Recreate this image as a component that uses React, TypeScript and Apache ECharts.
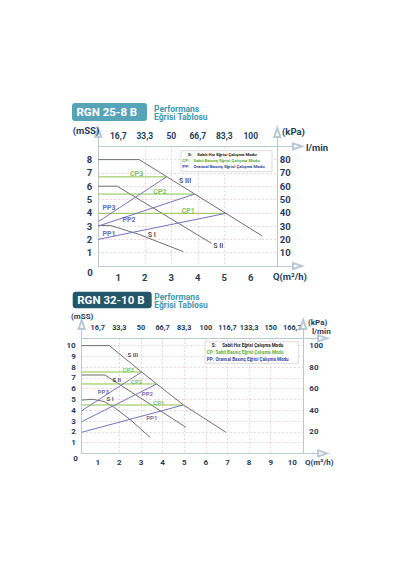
import React, { useEffect, useRef } from 'react';
import * as echarts from 'echarts';

// ---------- RGN 25-8 B ----------
const Q_TICKS_25 = [1, 2, 3, 4, 5, 6];
const LMIN_25 = ['16,7', '33,3', '50', '66,7', '83,3', '100'];
const S3_25 = [[0.24, 8], [1.79, 8], [6.43, 2.26]];
const S2_25 = [[0.24, 6], [0.96, 6], [4.52, 1.7]];
const S1_25 = [[0.24, 3.05], [0.7, 3.05], [1.75, 2.4], [3.45, 1.08]];
const CP3_25 = [[0.24, 6.7], [2.82, 6.7]];
const CP2_25 = [[0.24, 5.41], [3.88, 5.41]];
const CP1_25 = [[0.24, 3.96], [5.06, 3.96]];
const PP3_25 = [[0.24, 3.33], [2.82, 6.7]];
const PP2_25 = [[0.24, 3.0], [3.88, 5.41]];
const PP1_25 = [[0.24, 2.0], [5.06, 3.96]];
const S_LABELS_25 = [[3.52, 6.41, 'S III'], [4.77, 1.5, 'S II'], [2.26, 2.33, 'S I']];
const CP_LABELS_25 = [[1.69, 6.89, 'CP3'], [2.57, 5.59, 'CP2'], [3.64, 4.14, 'CP1']];
const PP_LABELS_25 = [[0.65, 4.34, 'PP3'], [1.4, 3.46, 'PP2'], [0.65, 2.38, 'PP1']];

// ---------- RGN 32-10 B ----------
const Q_TICKS_32 = [1, 2, 3, 4, 5, 6, 7, 8, 9, 10];
const LMIN_32 = ['16,7', '33,3', '50', '66,7', '83,3', '100', '116,7', '133,3', '150', '166,7'];
const S3_32 = [[0.26, 10], [1.54, 10], [3.03, 7.55], [4.96, 4.5], [6.93, 1.96]];
const S2_32 = [[0.26, 7.27], [1.34, 7.27], [5.08, 2.42]];
const S1_32 = [[0.26, 4.95], [0.8, 5.02], [1.3, 4.8], [1.72, 4.33], [2.49, 3.16], [3.42, 1.49]];
const CP3_32 = [[0.26, 7.55], [3.03, 7.55]];
const CP2_32 = [[0.26, 6.44], [3.73, 6.44]];
const CP1_32 = [[0.26, 4.49], [4.96, 4.49]];
const PP3_32 = [[0.26, 3.96], [3.03, 7.55]];
const PP2_32 = [[0.26, 2.94], [3.73, 6.44]];
const PP1_32 = [[0.26, 1.96], [4.96, 4.49]];
const S_LABELS_32 = [[2.62, 9.13, 'S III'], [1.88, 6.81, 'S II'], [1.57, 5.05, 'S I']];
const CP_LABELS_32 = [[2.42, 7.74, 'CP3'], [2.8, 6.65, 'CP2'], [3.83, 4.7, 'CP1']];
const PP_LABELS_32 = [[1.26, 5.7, 'PP3'], [3.3, 5.57, 'PP2'], [3.5, 3.35, 'PP1']];

const LEGEND_ITEMS = [
  ['S:', 'Sabit Hız Eğrisi Çalışma Modu'],
  ['CP:', 'Sabit Basınç Eğrisi Çalışma Modu'],
  ['PP:', 'Oransal Basınç Eğrisi Çalışma Modu'],
];

const FONT = 'Roboto, "Noto Sans", sans-serif';
const NAVY = '#1f3c5a';
const AXIS = '#b7c9d6';
const PINK = '#efc4d1';
const S_LINE = '#6e6e6e';
const CP_LINE = '#8cc34a';
const PP_LINE = '#7175bd';
const S_TXT = '#222222';
const CP_TXT = '#5fae37';
const PP_TXT = '#38479c';
const TEAL_TXT = '#3f97ae';

type Panel = {
  title: string; titleBox: number[]; titleFill: string; perfX: number; perfY: number[];
  X0: number; XU: number; Y0: number; YU: number;
  xLeft: number; xRight: number; yTop: number; xArrow: number; yArrow: number;
  qTicks: number[]; lmin: string[]; yLabelMax: number; kMax: number; kInt: number; kLabelMax: number;
  fs: number; tfs: number; mB: number; mT: number; mL: number; mR: number;
  S: number[][][]; CP: number[][][]; PP: number[][][];
  SL: any[]; CPL: any[]; PPL: any[]; lfs: number;
  zero: number[]; qName: number[]; mss: number[]; kpa: number[]; lminName: number[]; nfs: number;
  legBox: number[]; legY: number[]; legPre: number[]; legBody: number[]; legFs: number;
};

const P1: Panel = {
  title: 'RGN 25-8 B', titleBox: [72, 103, 75, 18], titleFill: '#57a3b7', perfX: 154, perfY: [108.5, 117.2],
  X0: 91.8, XU: 26.5, Y0: 266, YU: 13.3,
  xLeft: 0.24, xRight: 7, yTop: 9, xArrow: 7.76, yArrow: 10.04,
  qTicks: Q_TICKS_25, lmin: LMIN_25, yLabelMax: 8, kMax: 90, kInt: 10, kLabelMax: 80,
  fs: 9.5, tfs: 8.5, mB: 6, mT: 6.3, mL: 6, mR: 2.5,
  S: [S3_25, S2_25, S1_25], CP: [CP3_25, CP2_25, CP1_25], PP: [PP3_25, PP2_25, PP1_25],
  SL: S_LABELS_25, CPL: CP_LABELS_25, PPL: PP_LABELS_25, lfs: 7,
  zero: [90, 272.7], qName: [273, 276.7], mss: [72.7, 130], kpa: [282, 131], lminName: [306, 147.5], nfs: 9.5,
  legBox: [181, 150.7, 91, 21], legY: [154.6, 160.6, 166.8], legPre: [188, 182.3, 182.3], legBody: [197.3, 193.5, 193.5], legFs: 4.4,
};

const P2: Panel = {
  title: 'RGN 32-10 B', titleBox: [72.7, 291.7, 79, 16.6], titleFill: '#22566b', perfX: 154.3, perfY: [296.8, 305.4],
  X0: 76.1, XU: 21.62, Y0: 453.4, YU: 10.78,
  xLeft: 0.26, xRight: 10.51, yTop: 10.68, xArrow: 11.4, yArrow: 11.96,
  qTicks: Q_TICKS_32, lmin: LMIN_32, yLabelMax: 10, kMax: 106.8, kInt: 20, kLabelMax: 100,
  fs: 8, tfs: 7.3, mB: 5.3, mT: 6.8, mL: 6, mR: 6,
  S: [S3_32, S2_32, S1_32], CP: [CP3_32, CP2_32, CP1_32], PP: [PP3_32, PP2_32, PP1_32],
  SL: S_LABELS_32, CPL: CP_LABELS_32, PPL: PP_LABELS_32, lfs: 6,
  zero: [75.5, 458.3], qName: [305, 462.7], mss: [71, 316.7], kpa: [308, 322], lminName: [312, 331.5], nfs: 8,
  legBox: [205, 341.7, 93.3, 21.6], legY: [345.7, 352.7, 359.3], legPre: [211.7, 206.8, 206.8], legBody: [222.3, 215.5, 215.5], legFs: 4.5,
};

function addPanel(p: Panel, i: number, opt: any) {
  const gP = 2 * i;
  const gF = 2 * i + 1;
  const left = p.X0 + p.XU * p.xLeft;
  const plotTop = p.Y0 - p.YU * p.yTop;
  const frameTop = p.Y0 - p.YU * p.yArrow;
  opt.grid.push({ left, top: plotTop, width: p.XU * (p.xRight - p.xLeft), height: p.YU * p.yTop, containLabel: false, outerBoundsMode: 'none' });
  opt.grid.push({ left, top: frameTop, width: p.XU * (p.xArrow - p.xLeft), height: p.YU * p.yArrow, containLabel: false, outerBoundsMode: 'none' });

  const lab = { color: NAVY, fontFamily: FONT, fontWeight: 'bold', fontSize: p.fs };
  const split = () => ({ show: true, showMinLine: false, showMaxLine: false, lineStyle: { color: PINK, width: 0.8, type: [2, 2] } });
  const hidden = () => ({ show: false });
  const noLine = () => ({ show: false, onZero: false });
  const arrowLine = () => ({ show: true, onZero: false, symbol: ['none', 'emptyTriangle'], symbolSize: [6, 9], lineStyle: { color: AXIS, width: 1 } });

  // plot axes (labels + grid lines)
  opt.xAxis.push({
    gridIndex: gP, type: 'value', min: p.xLeft, max: p.xRight,
    axisLine: noLine(), axisTick: { show: false, customValues: p.qTicks },
    axisLabel: { ...lab, customValues: p.qTicks, margin: p.mB, formatter: (v: number) => String(v) },
    splitLine: split(),
  });
  opt.xAxis.push({
    gridIndex: gP, type: 'value', position: 'top', min: p.xLeft, max: p.xRight,
    axisLine: noLine(), axisTick: { show: false, customValues: p.qTicks },
    axisLabel: { ...lab, fontSize: p.tfs, customValues: p.qTicks, margin: p.mT, formatter: (v: number) => p.lmin[p.qTicks.indexOf(v)] ?? '' },
    splitLine: hidden(),
  });
  opt.yAxis.push({
    gridIndex: gP, type: 'value', min: 0, max: p.yTop, interval: 1,
    axisLine: noLine(), axisTick: hidden(),
    axisLabel: { ...lab, margin: p.mL, formatter: (v: number) => (v >= 1 && v <= p.yLabelMax && Number.isInteger(v) ? String(v) : '') },
    splitLine: split(),
  });
  opt.yAxis.push({
    gridIndex: gP, type: 'value', position: 'right', min: 0, max: p.kMax, interval: p.kInt,
    axisLine: noLine(), axisTick: hidden(),
    axisLabel: { ...lab, margin: p.mR, formatter: (v: number) => (v > 0 && v <= p.kLabelMax && v % p.kInt === 0 ? String(v) : '') },
    splitLine: hidden(),
  });
  // frame axes (lines + hollow arrows)
  opt.xAxis.push({ gridIndex: gF, type: 'value', position: 'bottom', min: p.xLeft, max: p.xArrow, axisLine: arrowLine(), axisTick: hidden(), axisLabel: hidden(), splitLine: hidden() });
  opt.xAxis.push({ gridIndex: gF, type: 'value', position: 'top', offset: -(p.YU * (p.yArrow - p.yTop)), min: p.xLeft, max: p.xArrow, axisLine: arrowLine(), axisTick: hidden(), axisLabel: hidden(), splitLine: hidden() });
  opt.yAxis.push({ gridIndex: gF, type: 'value', position: 'left', min: 0, max: p.yArrow, axisLine: arrowLine(), axisTick: hidden(), axisLabel: hidden(), splitLine: hidden() });
  opt.yAxis.push({ gridIndex: gF, type: 'value', position: 'right', offset: -(p.XU * (p.xArrow - p.xRight)), min: 0, max: p.yArrow, axisLine: arrowLine(), axisTick: hidden(), axisLabel: hidden(), splitLine: hidden() });

  const xi = 4 * i;
  const yi = 4 * i;
  const line = (data: number[][], color: string, name: string) => ({
    type: 'line', name, xAxisIndex: xi, yAxisIndex: yi, data, showSymbol: false, symbol: 'none', silent: true,
    lineStyle: { color, width: 1 }, z: 3,
  });
  p.S.forEach((d, k) => opt.series.push(line(d, S_LINE, `S${i}-${k}`)));
  p.CP.forEach((d, k) => opt.series.push(line(d, CP_LINE, `CP${i}-${k}`)));
  p.PP.forEach((d, k) => opt.series.push(line(d, PP_LINE, `PP${i}-${k}`)));
  const labels = (arr: any[], color: string) => ({
    type: 'scatter', xAxisIndex: xi, yAxisIndex: yi, symbolSize: 1, silent: true, z: 4,
    itemStyle: { color: 'rgba(0,0,0,0)' },
    data: arr.map((a) => ({ value: [a[0], a[1]], name: a[2] })),
    label: { show: true, position: 'inside', formatter: '{b}', color, fontSize: p.lfs, fontFamily: FONT, fontWeight: 'bold' },
  });
  opt.series.push(labels(p.SL, S_TXT));
  opt.series.push(labels(p.CPL, CP_TXT));
  opt.series.push(labels(p.PPL, PP_TXT));

  const txt = (x: number, y: number, text: string, fill: string, size: number, align = 'left', weight = 'bold') => ({
    type: 'text', x, y, z: 101,
    style: { text, fill, font: `${weight} ${size}px ${FONT}`, align, verticalAlign: 'middle' },
  });
  const [bx, by, bw, bh] = p.titleBox;
  opt.graphic.push({ type: 'rect', z: 100, shape: { x: bx, y: by, width: bw, height: bh, r: 3 }, style: { fill: p.titleFill } });
  opt.graphic.push(txt(bx + 4.5, by + bh / 2, p.title, '#ffffff', 11.5));
  opt.graphic.push(txt(p.perfX, p.perfY[0], 'Performans', TEAL_TXT, 8.5));
  opt.graphic.push(txt(p.perfX, p.perfY[1], 'Eğrisi Tablosu', TEAL_TXT, 8.5));

  opt.graphic.push(txt(p.zero[0], p.zero[1], '0', NAVY, p.fs, 'center'));
  opt.graphic.push(txt(p.qName[0], p.qName[1], 'Q(m³/h)', NAVY, p.nfs));
  opt.graphic.push(txt(p.mss[0], p.mss[1], '(mSS)', NAVY, p.nfs));
  opt.graphic.push(txt(p.kpa[0], p.kpa[1], '(kPa)', NAVY, p.nfs));
  opt.graphic.push(txt(p.lminName[0], p.lminName[1], 'l/min', NAVY, p.nfs));

  const [lx, ly, lw, lh] = p.legBox;
  opt.graphic.push({ type: 'rect', z: 100, shape: { x: lx, y: ly, width: lw, height: lh }, style: { fill: '#ffffff', stroke: '#c4c4c4', lineWidth: 0.6 } });
  const legColors = [S_TXT, CP_TXT, PP_TXT];
  LEGEND_ITEMS.forEach((it, k) => {
    opt.graphic.push(txt(p.legPre[k], p.legY[k], it[0], legColors[k], p.legFs));
    opt.graphic.push(txt(p.legBody[k], p.legY[k], it[1], legColors[k], p.legFs));
  });
}

export default function App() {
  const ref = useRef<HTMLDivElement>(null);
  useEffect(() => {
    if (!ref.current) return;
    const chart = echarts.init(ref.current, undefined, { renderer: 'svg' });
    const opt: any = { animation: false, backgroundColor: '#ffffff', grid: [], xAxis: [], yAxis: [], series: [], graphic: [] };
    addPanel(P1, 0, opt);
    addPanel(P2, 1, opt);
    chart.setOption(opt);
    return () => chart.dispose();
  }, []);
  return <div ref={ref} style={{ position: 'absolute', left: 0, top: 0, width: 400, height: 570, background: '#fff' }} />;
}
